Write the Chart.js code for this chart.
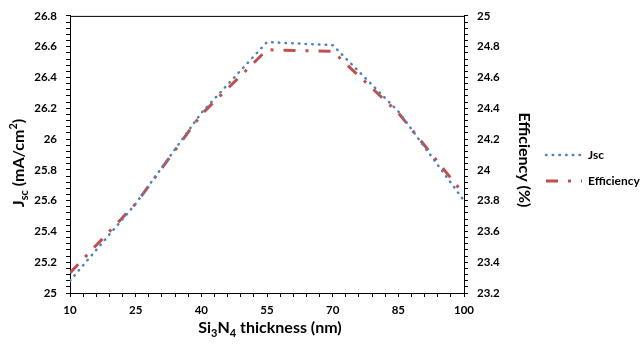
<!DOCTYPE html>
<html>
<head>
<meta charset="utf-8">
<script src="https://cdn.jsdelivr.net/npm/chart.js@4/dist/chart.umd.min.js"></script>
<style>
  html, body { margin: 0; padding: 0; background: #ffffff; }
  #wrap { width: 641px; height: 345px; position: relative; }
</style>
</head>
<body>
<div id="wrap"><canvas id="c"></canvas></div>
<script>
// Si3N4 anti-reflection layer thickness (nm)
const thickness = [10, 25, 40, 55, 70, 85, 100];
// Short-circuit current density (mA/cm2)
const jsc = [25.08, 25.58, 26.17, 26.63, 26.61, 26.18, 25.60];
// Cell efficiency (%)
const efficiency = [23.33, 23.78, 24.36, 24.78, 24.77, 24.37, 23.84];

// Axis ranges and label steps
const xRange = { min: 10, max: 100, labelStep: 15, minorStep: 3 };
const jscRange = { min: 25, max: 26.8, labelStep: 0.2, minorStep: 0.04 };
const effRange = { min: 23.2, max: 25, labelStep: 0.2, minorStep: 0.04 };

const FONT = 'Lato, "Open Sans", sans-serif';
const BLUE = '#4f81bd';
const RED = '#c0504d';

const layoutPad = { top: 14, bottom: 0, left: 0, right: 0 };
const PLOT_LEFT = 70;
const PLOT_RIGHT = 464;
const PLOT_BOTTOM = 293;

// Legend placement (right of the secondary axis title)
const legendBox = { x: 546, y: 155, lineWidth: 36, gap: 6, rowHeight: 26 };

function isMultiple(v, origin, step) {
  const r = (v - origin) / step;
  return Math.abs(r - Math.round(r)) < 1e-6;
}
function fmt(v) {
  return String(+v.toFixed(2));
}

// Text with subscripts / superscripts, drawn centred on (cx, cy)
function drawRich(ctx, parts, cx, cy, rot) {
  const big = 'bold 16px ' + FONT;
  const small = 'bold 11px ' + FONT;
  ctx.save();
  ctx.translate(cx, cy);
  ctx.rotate(rot);
  ctx.textBaseline = 'middle';
  ctx.textAlign = 'left';
  ctx.fillStyle = '#000';
  let total = 0;
  const widths = parts.map(p => {
    ctx.font = p.k === 'n' ? big : small;
    const w = ctx.measureText(p.t).width;
    total += w;
    return w;
  });
  let x = -total / 2;
  parts.forEach((p, i) => {
    ctx.font = p.k === 'n' ? big : small;
    const dy = p.k === 'sub' ? 5 : (p.k === 'sup' ? -6 : 0);
    ctx.fillText(p.t, x, dy);
    x += widths[i];
  });
  ctx.restore();
}

const framePlugin = {
  id: 'frame',
  beforeDraw(chart) {
    const ctx = chart.ctx;
    ctx.save();
    ctx.fillStyle = '#ffffff';
    ctx.fillRect(0, 0, chart.width, chart.height);
    ctx.restore();
  },
  afterDraw(chart) {
    const ctx = chart.ctx;
    const a = chart.chartArea;
    ctx.save();
    ctx.strokeStyle = '#000';
    ctx.lineWidth = 1;
    ctx.beginPath();
    ctx.moveTo(a.left, a.top + 0.5);
    ctx.lineTo(a.right, a.top + 0.5);
    ctx.stroke();
    ctx.restore();

    drawRich(ctx, [
      { t: 'Si', k: 'n' }, { t: '3', k: 'sub' }, { t: 'N', k: 'n' }, { t: '4', k: 'sub' },
      { t: ' thickness (nm)', k: 'n' }
    ], 270, 328, 0);

    drawRich(ctx, [
      { t: 'J', k: 'n' }, { t: 'sc', k: 'sub' }, { t: ' (mA/cm', k: 'n' }, { t: '2', k: 'sup' }, { t: ')', k: 'n' }
    ], 19, 163, -Math.PI / 2);

    drawRich(ctx, [{ t: 'Efficiency (%)', k: 'n' }], 524, 160, Math.PI / 2);

    // Legend: one line sample per dataset, styled like the dataset itself
    chart.data.datasets.forEach((ds, i) => {
      const y = legendBox.y + i * legendBox.rowHeight;
      ctx.save();
      ctx.strokeStyle = ds.borderColor;
      ctx.lineWidth = ds.borderWidth;
      ctx.lineCap = ds.borderCapStyle || 'butt';
      ctx.setLineDash(ds.borderDash || []);
      ctx.beginPath();
      ctx.moveTo(legendBox.x, y);
      ctx.lineTo(legendBox.x + legendBox.lineWidth, y);
      ctx.stroke();
      ctx.setLineDash([]);
      ctx.fillStyle = '#000';
      ctx.font = 'bold 12px ' + FONT;
      ctx.textBaseline = 'middle';
      ctx.textAlign = 'left';
      ctx.fillText(ds.label, legendBox.x + legendBox.lineWidth + legendBox.gap, y);
      ctx.restore();
    });
  }
};

const tickFont = { family: FONT, size: 11.5, weight: 'bold' };
const gridOpts = { drawOnChartArea: false, color: '#000', tickLength: 4, lineWidth: 1 };
const borderOpts = { color: '#000', width: 1 };

new Chart(document.getElementById('c'), {
  type: 'line',
  data: {
    datasets: [
      {
        label: 'Jsc',
        data: thickness.map((t, i) => ({ x: t, y: jsc[i] })),
        yAxisID: 'y',
        borderColor: BLUE,
        backgroundColor: BLUE,
        borderWidth: 2.5,
        borderDash: [0.5, 6.2],
        borderCapStyle: 'round',
        pointRadius: 0,
        tension: 0,
        fill: false
      },
      {
        label: 'Efficiency',
        data: thickness.map((t, i) => ({ x: t, y: efficiency[i] })),
        yAxisID: 'y2',
        borderColor: RED,
        backgroundColor: RED,
        borderWidth: 3,
        borderDash: [12, 10, 3, 10],
        borderCapStyle: 'butt',
        pointRadius: 0,
        tension: 0,
        fill: false
      }
    ]
  },
  options: {
    responsive: true,
    maintainAspectRatio: false,
    animation: false,
    layout: { padding: layoutPad },
    plugins: {
      legend: { display: false },
      tooltip: { enabled: false }
    },
    scales: {
      x: {
        type: 'linear',
        min: xRange.min,
        max: xRange.max,
        grid: gridOpts,
        border: borderOpts,
        afterFit(s) { s.height = s.chart.height - layoutPad.bottom - PLOT_BOTTOM; },
        ticks: {
          stepSize: xRange.minorStep,
          autoSkip: false,
          maxRotation: 0,
          padding: 6,
          color: '#000',
          font: tickFont,
          callback: v => isMultiple(v, xRange.min, xRange.labelStep) ? fmt(v) : ''
        }
      },
      y: {
        position: 'left',
        min: jscRange.min,
        max: jscRange.max,
        grid: gridOpts,
        border: borderOpts,
        afterFit(s) { s.width = PLOT_LEFT - layoutPad.left; },
        ticks: {
          stepSize: jscRange.minorStep,
          autoSkip: false,
          padding: 9,
          color: '#000',
          font: tickFont,
          callback: v => isMultiple(v, jscRange.min, jscRange.labelStep) ? fmt(v) : ''
        }
      },
      y2: {
        position: 'right',
        min: effRange.min,
        max: effRange.max,
        grid: gridOpts,
        border: borderOpts,
        afterFit(s) { s.width = s.chart.width - layoutPad.right - PLOT_RIGHT; },
        ticks: {
          stepSize: effRange.minorStep,
          autoSkip: false,
          padding: 9,
          color: '#000',
          font: tickFont,
          callback: v => isMultiple(v, effRange.min, effRange.labelStep) ? fmt(v) : ''
        }
      }
    }
  },
  plugins: [framePlugin]
});
</script>
</body>
</html>
